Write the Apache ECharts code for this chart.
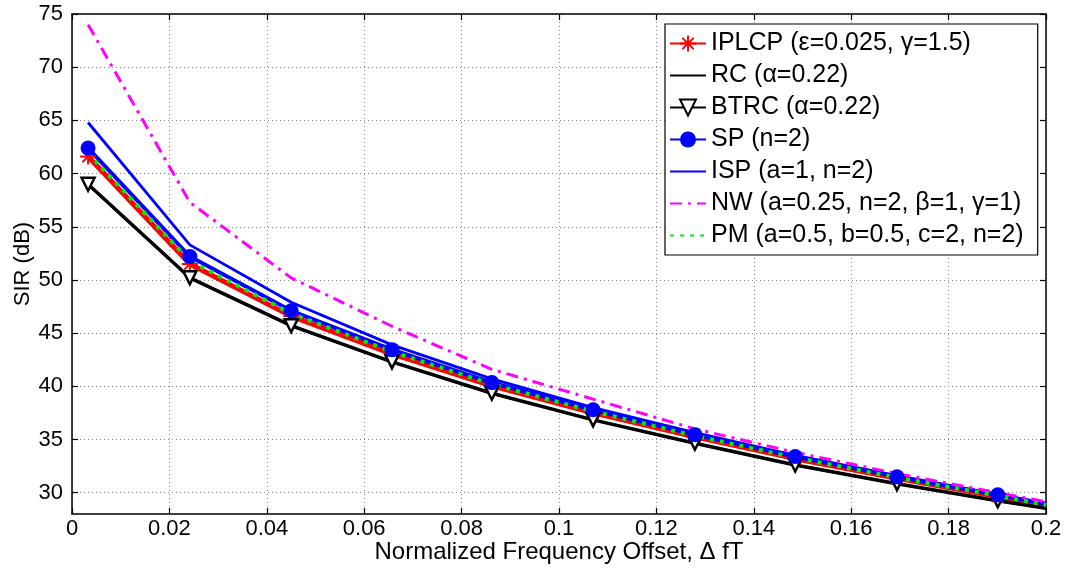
<!DOCTYPE html>
<html>
<head>
<meta charset="utf-8">
<script src="https://cdn.jsdelivr.net/npm/echarts@6/dist/echarts.min.js"></script>
<style>
    html, body { margin: 0; padding: 0; background: #fff; }
    #chart { width: 1068px; height: 571px; }
</style>
</head>
<body>
<div id="chart"></div>
<script>
// frequency offsets (last point only carries the line to the axis edge)
var xVals = [0.0033, 0.0242, 0.045, 0.0657, 0.0862, 0.107, 0.1279, 0.1485, 0.1694, 0.1901, 0.2];

var iplcp = [61.6, 51.5, 46.6, 43.05, 40.05, 37.5, 35.25, 33.2, 31.35, 29.65, 28.8];
var rc    = [59.0, 50.2, 45.7, 42.3, 39.35, 36.85, 34.65, 32.6, 30.85, 29.25, 28.55];
var btrc  = [59.0, 50.2, 45.7, 42.3, 39.35, 36.85, 34.65, 32.6, 30.85, 29.25, 28.55];
var sp    = [62.4, 52.2, 47.1, 43.45, 40.35, 37.8, 35.46, 33.4, 31.5, 29.8, 28.95];
var isp   = [64.8, 53.3, 47.9, 43.9, 40.7, 38.0, 35.65, 33.5, 31.6, 29.85, 29.0];
var nw    = [74.0, 57.3, 50.2, 45.65, 41.6, 38.8, 36.0, 33.8, 31.8, 30.0, 29.15];
var pm    = [61.9, 51.8, 46.85, 43.25, 40.2, 37.65, 35.35, 33.3, 31.42, 29.72, 28.85];

var seriesNames = [
    'IPLCP (ε=0.025, γ=1.5)',
    'RC (α=0.22)',
    'BTRC (α=0.22)',
    'SP (n=2)',
    'ISP (a=1, n=2)',
    'NW (a=0.25, n=2, β=1, γ=1)',
    'PM (a=0.5, b=0.5, c=2, n=2)'
];
// which series carry markers
var hasMarker = [true, false, true, true, false, false, false];

var xTicks = [0, 0.02, 0.04, 0.06, 0.08, 0.1, 0.12, 0.14, 0.16, 0.18, 0.2];
var yTicks = [30, 35, 40, 45, 50, 55, 60, 65, 70, 75];

var myChart = echarts.init(document.getElementById('chart'));

// asterisk marker ('*' in matlab)
var star = 'path://M-1.2,-10L1.2,-10L1.2,10L-1.2,10Z' +
    'M-10,-1.2L10,-1.2L10,1.2L-10,1.2Z' +
    'M6.22,-7.92L7.92,-6.22L-6.22,7.92L-7.92,6.22Z' +
    'M-7.92,-6.22L-6.22,-7.92L7.92,6.22L6.22,7.92Z';

function pairs(ys) {
    var res = [];
    for (var i = 0; i < ys.length; i++) {
        if (i == ys.length - 1) {
            res.push({ value: [xVals[i], ys[i]], symbol: 'none' });
        } else {
            res.push([xVals[i], ys[i]]);
        }
    }
    return res;
}

function line(name, ys, color, width, type, symbol, size, extra) {
    var s = {
        name: name,
        type: 'line',
        data: pairs(ys),
        symbol: symbol || 'none',
        symbolSize: size || 0,
        showSymbol: !!symbol,
        lineStyle: { color: color, width: width, type: type || 'solid' },
        itemStyle: { color: color },
        emphasis: { disabled: true }
    };
    for (var k in extra) s[k] = extra[k];
    return s;
}

// legend entries: hide the default circle for plain lines
var legendData = seriesNames.map(function (n, i) {
    return hasMarker[i] ? { name: n } : { name: n, itemStyle: { opacity: 0 } };
});

var font = 'Liberation Sans, Arial, sans-serif';

var option = {
    backgroundColor: '#fff',
    animation: false,
    textStyle: { fontFamily: font },
    grid: { left: 72, right: 22, top: 14, bottom: 57, outerBoundsMode: 'none' },
    legend: {
        orient: 'vertical',
        left: 665,
        top: 24,
        padding: [7, 14, 7, 4],
        backgroundColor: '#fff',
        borderColor: '#000',
        borderWidth: 1.2,
        borderRadius: 0,
        itemWidth: 36,
        itemHeight: 20,
        itemGap: 7,
        textStyle: { fontSize: 25, color: '#000', fontFamily: font },
        data: legendData
    },
    xAxis: [{
        type: 'value',
        min: 0,
        max: 0.2,
        name: 'Normalized Frequency Offset, Δ fT',
        nameLocation: 'middle',
        nameGap: 26,
        nameMoveOverlap: false,
        nameTextStyle: { fontSize: 24, color: '#000' },
        axisLine: { onZero: false, lineStyle: { color: '#000', width: 1.5 } },
        axisTick: { inside: true, length: 6, customValues: xTicks, lineStyle: { color: '#000', width: 1.2 } },
        axisLabel: { fontSize: 22, color: '#000', margin: 4, customValues: xTicks },
        splitLine: { show: true, customValues: xTicks, lineStyle: { color: '#888', type: [1, 3], width: 1 } }
    }, {
        type: 'value',
        position: 'top',
        min: 0,
        max: 0.2,
        axisLine: { onZero: false, lineStyle: { color: '#000', width: 1.5 } },
        axisTick: { inside: true, length: 6, customValues: xTicks, lineStyle: { color: '#000', width: 1.2 } },
        axisLabel: { show: false },
        splitLine: { show: false }
    }],
    yAxis: [{
        type: 'value',
        min: 28,
        max: 75,
        name: 'SIR (dB)',
        nameLocation: 'middle',
        nameGap: 38,
        nameMoveOverlap: false,
        nameTextStyle: { fontSize: 22, color: '#000' },
        axisLine: { show: true, onZero: false, lineStyle: { color: '#000', width: 1.5 } },
        axisTick: { show: true, inside: true, length: 6, customValues: yTicks, lineStyle: { color: '#000', width: 1.2 } },
        axisLabel: { fontSize: 22, color: '#000', margin: 9, customValues: yTicks },
        splitLine: { show: true, customValues: yTicks, lineStyle: { color: '#888', type: [1, 3], width: 1 } }
    }, {
        type: 'value',
        position: 'right',
        min: 28,
        max: 75,
        axisLine: { show: true, onZero: false, lineStyle: { color: '#000', width: 1.5 } },
        axisTick: { show: true, inside: true, length: 6, customValues: yTicks, lineStyle: { color: '#000', width: 1.2 } },
        axisLabel: { show: false },
        splitLine: { show: false }
    }],
    series: [
        line(seriesNames[0], iplcp, '#ff0000', 5, 'solid', star, 16),
        line(seriesNames[1], rc, '#000000', 2.5, 'solid'),
        line(seriesNames[2], btrc, '#000000', 3.5, 'solid', 'triangle', 13, {
            symbolRotate: 180,
            itemStyle: { color: '#fff', borderColor: '#000', borderWidth: 2.5 }
        }),
        line(seriesNames[3], sp, '#0000ff', 4, 'solid', 'circle', 15),
        line(seriesNames[4], isp, '#0000ff', 2.8, 'solid'),
        line(seriesNames[5], nw, '#ff00ff', 3, [12, 6, 3, 6]),
        line(seriesNames[6], pm, '#00ee00', 4, [4, 6])
    ]
};
myChart.setOption(option);
</script>
</body>
</html>
